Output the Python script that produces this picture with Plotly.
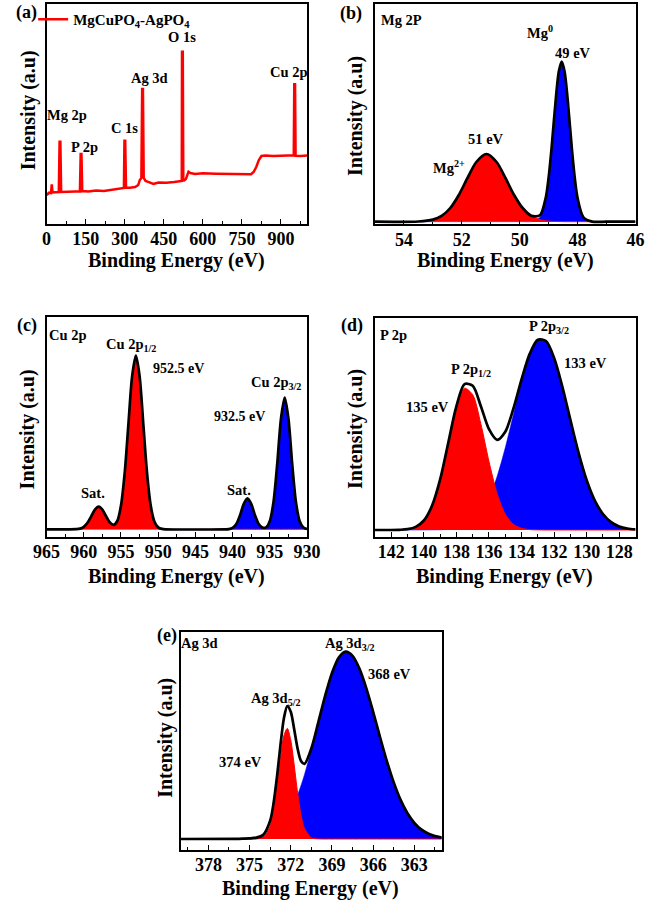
import plotly.graph_objects as go

# ---------------- data ----------------
# (a) survey spectrum (binding energy eV, intensity a.u.)
survey_x = [0, 5, 10, 17, 20, 23, 35, 47, 50, 53, 56, 70, 90, 110, 128, 131, 134, 137, 160, 190,
            220, 250, 270, 290, 297, 299, 302, 305, 320, 340, 352, 358, 364, 367, 370, 373, 380,
            395, 410, 430, 460, 490, 512, 519, 520, 523, 525, 535, 545, 552, 570, 600, 650, 700,
            750, 785, 795, 805, 815, 825, 840, 870, 900, 930, 949, 951, 954, 956, 975, 1000]
survey_y = [29, 30, 31.3, 31, 39.7, 31.5, 31.5, 32, 82.3, 82.3, 32, 32.3, 32, 32.5, 32.5, 70, 70, 33,
            32.5, 33.5, 33, 34, 35, 35.5, 36, 83.3, 83.3, 36.5, 36.3, 37, 39, 44, 46, 135, 135, 46,
            43, 41.7, 40, 41.5, 41.3, 42, 42.3, 43, 172.3, 172.3, 43, 45, 52.3, 51, 50, 50.7, 50.3,
            50, 50.2, 49.7, 52, 57, 64, 68, 68.5, 68, 68.3, 68.5, 68.7, 139.7, 139.7, 68.3, 68, 68.5]
survey_name = "MgCuPO<sub>4</sub>-AgPO<sub>4</sub>"

# (b) Mg 2p
mg_x = [55, 53.5, 53.0, 52.7, 52.4, 52.1, 51.8, 51.5, 51.15, 50.8, 50.5, 50.2, 49.9, 49.6, 49.3,
        49.1, 49.0, 48.9, 48.75, 48.65, 48.55, 48.45, 48.35, 48.2, 48.1, 48.0, 47.8, 47.5, 47.0, 46]
mg_red = [0, 0.2, 2.1, 5.8, 13.7, 27, 44, 59.7, 67.7, 59.7, 44, 27, 13.7, 5.8, 2.1,
          0.9, 0.6, 0.4, 0.2, 0.1, 0.1, 0, 0, 0, 0, 0, 0, 0, 0, 0]
mg_blue = [0, 0, 0, 0, 0, 0, 0, 0, 0, 0, 0, 0, 0, 0.1, 4.4,
           23.3, 44, 73.3, 124, 150, 160, 150, 124, 73.3, 44, 23.3, 4.4, 0.1, 0, 0]

# (c) Cu 2p
cu_x = [965, 961, 960.5, 960, 959.5, 959, 958.5, 958, 957.5, 957, 956.5, 956, 955.5, 955, 954.5,
        954, 953.5, 953, 952.5, 952, 951.5, 951, 950.5, 950, 949.5, 949, 941, 940.5, 940, 939.5,
        939, 938.5, 938, 937.5, 937, 936.5, 936, 935.5, 935, 934.5, 934, 933.5, 933, 932.5, 932,
        931.5, 931, 930.5, 930]
cu_red = [0, 0.2, 0.7, 2.5, 6.5, 13.0, 19.7, 22.6, 19.7, 13.1, 6.9, 4.4, 8.3, 23.7, 56.4,
          105.3, 153.2, 173.6, 153.2, 105.3, 56.4, 23.5, 7.6, 1.9, 0.4, 0, 0, 0, 0, 0,
          0, 0, 0, 0, 0, 0, 0, 0, 0, 0, 0, 0, 0, 0, 0,
          0, 0, 0, 0]
cu_blue = [0, 0, 0, 0, 0, 0, 0, 0, 0, 0, 0, 0, 0, 0, 0,
           0, 0, 0, 0, 0, 0, 0, 0, 0, 0, 0, 0, 0.2, 1.4, 5.3,
           14.2, 25.5, 31, 25.5, 14.2, 5.3, 1.7, 1.9, 8.3, 27.7, 65.9, 110.7, 131.6, 110.7, 65.9,
           27.7, 8.3, 1.7, 0.3]

# (d) P 2p
p_x = [143, 142, 141.5, 141, 140.5, 140, 139.5, 139, 138.5, 138, 137.5, 137, 136.5, 136, 135.5,
       135, 134.5, 134, 133.5, 133, 132.5, 132, 131.5, 131, 130.5, 130, 129.5, 129, 128.5, 128,
       127.5, 127]
p_red = [0, 0, 0.2, 0.8, 3.1, 9.5, 24.1, 50.4, 86.6, 122.1, 141.8, 135.3, 106.1, 68.5, 36.3,
         15.8, 5.7, 1.7, 0.4, 0.1, 0, 0, 0, 0, 0, 0, 0, 0, 0, 0,
         0, 0]
p_blue = [0, 0, 0, 0, 0, 0, 0.1, 0.2, 0.7, 1.7, 4.1, 8.9, 17.7, 32.3, 53.8,
          82.4, 115.6, 148.8, 175.7, 190.2, 188.9, 172.1, 143.7, 110.1, 77.4, 49.8, 29.5, 16.0, 7.9, 3.6,
          1.5, 0.6]

# (e) Ag 3d
ag_x = [380, 376, 375.5, 375, 374.5, 374, 373.5, 373.25, 373, 372.75, 372.5, 372.25, 372, 371.75,
        371.5, 371.25, 371, 370.5, 370, 369.5, 369, 368.5, 368, 367.5, 367, 366.5, 366, 365.5, 365,
        364.5, 364, 363.5, 363, 362.5, 362, 361.5, 361]
ag_red = [0, 0, 0, 0, 0.1, 1.6, 13.0, 28.7, 52.6, 80.6, 103.3, 110.6, 98.9, 74.0,
          46.2, 24.1, 10.5, 1.2, 0.1, 0, 0, 0, 0, 0, 0, 0, 0, 0, 0,
          0, 0, 0, 0, 0, 0, 0, 0]
ag_blue = [0, 0.1, 0.3, 0.6, 1.3, 2.7, 5.3, 7.3, 9.9, 13.2, 17.3, 22.3, 28.4, 35.7,
           44.1, 53.8, 64.6, 89.3, 116.3, 143.0, 165.9, 181.5, 187.3, 183.1, 170.4, 150.9, 127.2, 102.0, 77.9,
           56.6, 39.1, 25.8, 16.2, 9.6, 5.5, 3.0, 1.5]

ticks_a = [0, 150, 300, 450, 600, 750, 900]
ticks_b = [54, 52, 50, 48, 46]
ticks_c = [965, 960, 955, 950, 945, 940, 935, 930]
ticks_d = [142, 140, 138, 136, 134, 132, 130, 128]
ticks_e = [378, 375, 372, 369, 366, 363]

# ---------------- figure ----------------
W, H = 661, 902
FONT = "Times New Roman, Liberation Serif, serif"
RED = "#ff0000"
BLUE = "#0000ff"


def px(x):
    return x / W


def py(y):
    return 1 - y / H


fig = go.Figure()

fig.add_trace(go.Scatter(x=survey_x, y=survey_y, mode="lines", name=survey_name,
                         line=dict(color=RED, width=2.5), xaxis="x", yaxis="y",
                         showlegend=True))

panels = [
    ("2", mg_x, mg_red, mg_blue),
    ("3", cu_x, cu_red, cu_blue),
    ("4", p_x, p_red, p_blue),
    ("5", ag_x, ag_red, ag_blue),
]
for ax, xs, red, blue in panels:
    env = [r + b for r, b in zip(red, blue)]
    fig.add_trace(go.Scatter(x=xs, y=blue, mode="lines", fill="tozeroy", fillcolor=BLUE,
                             line=dict(color=BLUE, width=0.5, shape="spline", smoothing=0.8),
                             xaxis="x" + ax, yaxis="y" + ax, showlegend=False))
    fig.add_trace(go.Scatter(x=xs, y=red, mode="lines", fill="tozeroy", fillcolor=RED,
                             line=dict(color=RED, width=1, shape="spline", smoothing=0.8),
                             xaxis="x" + ax, yaxis="y" + ax, showlegend=False))
    fig.add_trace(go.Scatter(x=xs, y=env, mode="lines",
                             line=dict(color="black", width=2.7, shape="spline", smoothing=0.8),
                             xaxis="x" + ax, yaxis="y" + ax, showlegend=False))

tickfont = dict(family=FONT, size=18, color="black", weight="bold")


def xaxis(dom, rng, ticks, minor_dtick, anchor):
    return dict(domain=dom, range=rng, anchor=anchor, tickmode="array", tickvals=ticks,
                ticktext=[str(t) for t in ticks], ticks="inside", ticklen=5, tickwidth=1.2,
                tickcolor="black", showline=True, mirror=True, linecolor="black", linewidth=1.5,
                showgrid=False, zeroline=False, tickfont=tickfont, ticklabelstandoff=-2,
                minor=dict(ticks="inside", ticklen=3, tickwidth=1.2, tickcolor="black",
                           tickmode="linear", tick0=ticks[-1], dtick=minor_dtick, showgrid=False))


def yaxis(dom, rng, anchor):
    return dict(domain=dom, range=rng, anchor=anchor, showticklabels=False, ticks="",
                showline=True, mirror=True, linecolor="black", linewidth=1.5,
                showgrid=False, zeroline=False)


xa = [px(34), px(306)]
xb = [px(377), px(649)]
xe = [px(174.3), px(446.7)]

layout = dict(
    width=W, height=H, margin=dict(l=0, r=0, t=0, b=0),
    paper_bgcolor="white", plot_bgcolor="white",
    font=dict(family=FONT, size=14, color="black", weight="bold"),
    xaxis=xaxis(xa, [0, 1000], ticks_a, 75, "y"),
    yaxis=yaxis([py(224), py(4)], [0, 220], "x"),
    xaxis2=xaxis(xb, [55, 46], ticks_b, 1, "y2"),
    yaxis2=yaxis([py(224.3), py(4)], [-2.6, 217.7], "x2"),
    xaxis3=xaxis(xa, [965, 930], ticks_c, 2.5, "y3"),
    yaxis3=yaxis([py(536.5), py(317)], [-7.2, 212.3], "x3"),
    xaxis4=xaxis(xb, [143, 127], ticks_d, 1, "y4"),
    yaxis4=yaxis([py(537), py(318)], [-7, 212], "x4"),
    xaxis5=xaxis(xe, [380, 361], ticks_e, 1.5, "y5"),
    yaxis5=yaxis([py(850), py(631.7)], [-11, 207.3], "x5"),
    legend=dict(x=px(20), y=py(3), xanchor="left", yanchor="top", bgcolor="rgba(0,0,0,0)",
                font=dict(family=FONT, size=15, color="black", weight="bold"),
                itemwidth=30, tracegroupgap=0),
    showlegend=True,
)

ann = []


def T(text, x, y, size=14.5, angle=0):
    ann.append(dict(text=text, x=px(x), y=py(y), xref="paper", yref="paper",
                    xanchor="center", yanchor="middle", showarrow=False, textangle=angle,
                    font=dict(family=FONT, size=size, color="black", weight="bold")))


# panel letters
T("(a)", 13.5, 13, 18)
T("(b)", 351.7, 13.7, 18)
T("(c)", 13.3, 325, 18)
T("(d)", 352.5, 325, 18)
T("(e)", 160, 635, 18)

# axis titles
YT = "Intensity (a.u)"
XT = "Binding Energy (eV)"
T(YT, 15, 110, 20, -90)
T(YT, 356, 116, 20, -90)
T(YT, 14, 429, 20, -90)
T(YT, 356, 429, 20, -90)
T(YT, 157.5, 738, 20, -90)
T(XT, 170, 261, 20)
T(XT, 513.3, 261, 20)
T(XT, 170, 576, 20)
T(XT, 512.5, 576, 20)
T(XT, 310, 888, 20)

# (a) peak labels
T("Mg 2p", 55, 115)
T("P 2p", 73.3, 146.7)
T("C 1s", 115, 128.3)
T("Ag 3d", 141.7, 78.3)
T("O 1s", 175, 36.7)
T("Cu 2p", 286.7, 71.7)

# (b)
T("Mg 2P", 405, 20)
T("Mg<sup>0</sup>", 549, 32)
T("49 eV", 583.3, 52.7)
T("51 eV", 492.5, 139.3)
T("Mg<sup>2+</sup>", 453.8, 167)

# (c)
T("Cu 2p", 55.7, 335)
T("Cu 2p<sub>1/2</sub>", 122, 345)
T("952.5 eV", 171.7, 368.3, 14)
T("Cu 2p<sub>3/2</sub>", 274, 383)
T("932.5 eV", 235.8, 416.7, 14)
T("Sat.", 82, 492.7)
T("Sat.", 234.8, 490)

# (d)
T("P 2p", 396, 335)
T("P 2p<sub>3/2</sub>", 558.3, 327)
T("133 eV", 596.7, 363.3)
T("P 2p<sub>1/2</sub>", 476.7, 369.5)
T("135 eV", 431.7, 407.3)

# (e)
T("Ag 3d", 194, 643.3)
T("Ag 3d<sub>5/2</sub>", 274, 699)
T("374 eV", 236, 761.7)
T("Ag 3d<sub>3/2</sub>", 351.3, 644)
T("368 eV", 392.5, 674)

layout["annotations"] = ann
fig.update_layout(**layout)
fig.write_html("out.html", config={"displayModeBar": False},
               post_script="document.body.style.margin='0';document.body.style.overflow='hidden';")
